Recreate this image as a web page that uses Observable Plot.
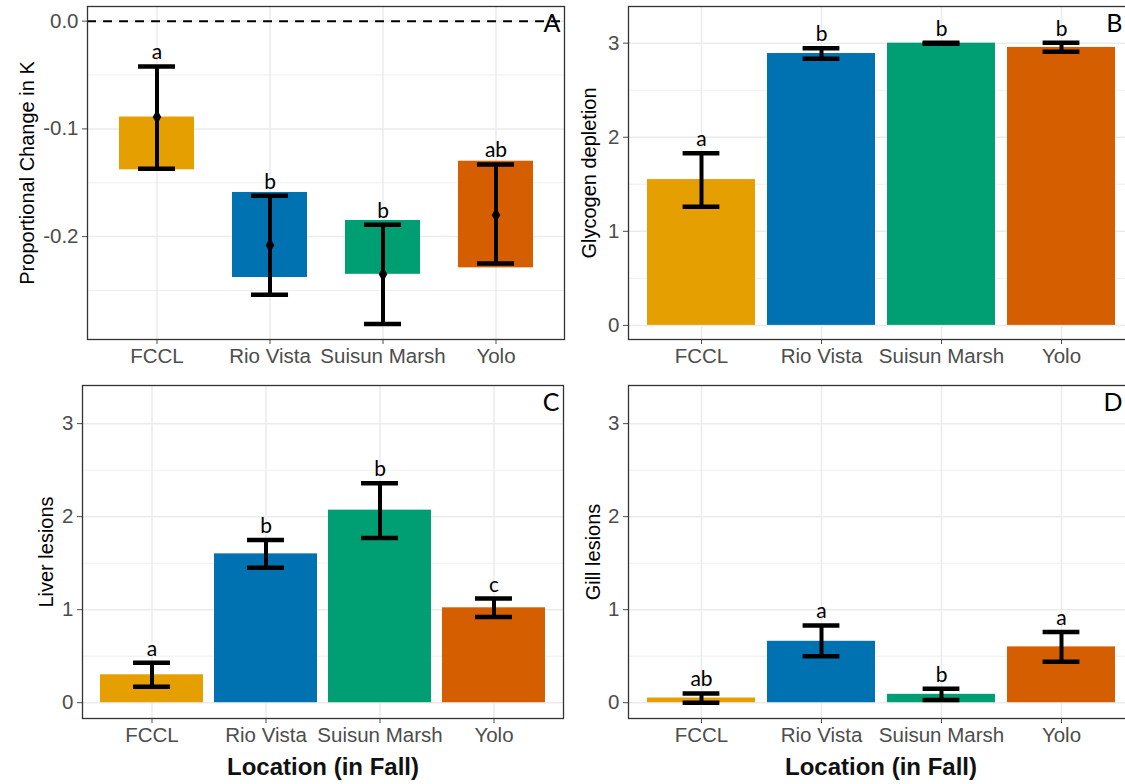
<!DOCTYPE html>
<html>
<head>
<meta charset="utf-8">
<script src="https://cdn.jsdelivr.net/npm/d3@7"></script>
<script src="https://cdn.jsdelivr.net/npm/@observablehq/plot@0.6"></script>
<style>
html, body { margin: 0; padding: 0; background: #fff; overflow: hidden; }
#wrap { position: relative; width: 1125px; height: 784px; overflow: hidden; background: #fff; }
.p { position: absolute; }
</style>
</head>
<body>
<div id="wrap"></div>
<script>
// ---- data ----
const locations = ["FCCL", "Rio Vista", "Suisun Marsh", "Yolo"];
const fills = ["#E69F00", "#0072B2", "#009E73", "#D55E00"];

// Panel A: proportional change in K (floating bars)
const kBarTop    = [-0.089, -0.159, -0.185, -0.130];
const kBarBottom = [-0.138, -0.238, -0.235, -0.229];
const kMean      = [-0.089, -0.208, -0.235, -0.180];
const kErrLow    = [-0.137, -0.254, -0.281, -0.225];
const kErrHigh   = [-0.042, -0.162, -0.189, -0.133];
const kLetters   = ["a", "b", "b", "ab"];
const kTicks     = [0, -0.1, -0.2];
const kMinor     = [-0.05, -0.15, -0.25];

// Panel B: glycogen depletion
const glyMean    = [1.55, 2.89, 3.00, 2.955];
const glyLow     = [1.26, 2.835, 2.995, 2.91];
const glyHigh    = [1.83, 2.945, 3.005, 3.005];
const glyLetters = ["a", "b", "b", "b"];

// Panel C: liver lesions
const livMean    = [0.30, 1.60, 2.07, 1.02];
const livLow     = [0.17, 1.45, 1.77, 0.92];
const livHigh    = [0.43, 1.75, 2.36, 1.12];
const livLetters = ["a", "b", "b", "c"];

// Panel D: gill lesions
const gilMean    = [0.05, 0.66, 0.09, 0.60];
const gilLow     = [0.00, 0.50, 0.03, 0.44];
const gilHigh    = [0.10, 0.83, 0.15, 0.76];
const gilLetters = ["ab", "a", "b", "a"];

const scoreTicks = [0, 1, 2, 3];
const scoreMinor = [0.5, 1.5, 2.5];

const xTitle = "Location (in Fall)";

// ---- build rows ----
function rowsFrom(lo, hi, mean, eLow, eHigh, letters) {
  return locations.map((loc, i) => ({
    loc, fill: fills[i], lo: lo[i], hi: hi[i], mean: mean[i],
    errLow: eLow[i], errHigh: eHigh[i], letter: letters[i]
  }));
}

const zeros = locations.map(() => 0);

function makePanel(cfg) {
  const {rows, left, top, width, height, mL, mR, mT, mB, yDomain, major, minor, fmt,
         pi, po, tag, tagDx, yTitle, yTitleOff, showXTitle, floating} = cfg;
  const bw = (width - mL - mR) / (locations.length - pi + 2 * po) * (1 - pi);
  const capInset = Math.max(0, (bw - 37) / 2);
  const marks = [
    Plot.gridY(minor, {stroke: "#ebebeb", strokeOpacity: 1, strokeWidth: 0.8}),
    Plot.gridY(major, {stroke: "#ebebeb", strokeOpacity: 1, strokeWidth: 1.5}),
    Plot.gridX(locations, {stroke: "#ebebeb", strokeOpacity: 1, strokeWidth: 1.5}),
    Plot.barY(rows, {x: "loc", y1: "lo", y2: "hi", fill: "fill"})
  ];
  if (floating) {
    marks.push(Plot.ruleY([0], {stroke: "black", strokeWidth: 2, strokeDasharray: "9,7"}));
  }
  marks.push(
    Plot.ruleX(rows, {x: "loc", y1: "errLow", y2: "errHigh", stroke: "black", strokeWidth: 4}),
    Plot.tickY(rows, {x: "loc", y: "errLow", stroke: "black", strokeWidth: 4.5, insetLeft: capInset, insetRight: capInset}),
    Plot.tickY(rows, {x: "loc", y: "errHigh", stroke: "black", strokeWidth: 4.5, insetLeft: capInset, insetRight: capInset})
  );
  if (floating) {
    marks.push(Plot.dot(rows, {x: "loc", y: "mean", symbol: "diamond", r: 4.5, fill: "black"}));
  }
  marks.push(
    Plot.text(rows, {x: "loc", y: "errHigh", text: "letter", lineAnchor: "bottom", dy: -7,
                     fontSize: 21, fontFamily: "Lato, 'Open Sans', sans-serif", fill: "black"}),
    Plot.text([tag], {frameAnchor: "top-right", textAnchor: "end", lineAnchor: "top", dx: tagDx, dy: 8,
                      fontSize: 25, fontFamily: "Lato, 'Open Sans', sans-serif", fill: "black"}),
    Plot.text([yTitle], {frameAnchor: "left", rotate: -90, dx: -yTitleOff, lineAnchor: "bottom",
                         textAnchor: "middle", fontSize: 20, fill: "black"}),
    Plot.axisY({ticks: major, tickFormat: fmt, tickSize: 5, tickPadding: 4, fontSize: 20.5, label: null}),
    Plot.axisX({tickSize: 5, tickPadding: 4, fontSize: 20.5, label: null}),
    Plot.frame({stroke: "#333333", strokeWidth: 1.3})
  );
  if (showXTitle) {
    marks.push(Plot.text([xTitle], {frameAnchor: "bottom", lineAnchor: "middle", dy: 49,
                                    fontSize: 24, fontWeight: "bold", fill: "#111"}));
  }
  const svg = Plot.plot({
    width, height,
    marginLeft: mL, marginRight: mR, marginTop: mT, marginBottom: mB,
    style: {fontFamily: "'Liberation Sans', Arial, sans-serif", fontSize: "20px", color: "#4d4d4d", background: "transparent", overflow: "visible"},
    x: {type: "band", domain: locations, paddingInner: pi, paddingOuter: po, label: null},
    y: {domain: yDomain, label: null},
    marks
  });
  svg.classList.add("p");
  svg.style.left = left + "px";
  svg.style.top = top + "px";
  document.getElementById("wrap").appendChild(svg);
}

const fmt1 = d => d.toFixed(1);
const fmt0 = d => String(d);

makePanel({
  rows: rowsFrom(kBarBottom, kBarTop, kMean, kErrLow, kErrHigh, kLetters),
  left: 0, top: 0, width: 570, height: 375, mL: 87, mR: 6, mT: 6, mB: 36,
  yDomain: [-0.2955, 0.0136], major: kTicks, minor: kMinor, fmt: fmt1,
  pi: 0.34, po: 0.27, tag: "A", tagDx: -4, yTitle: "Proportional Change in K", yTitleOff: 54,
  showXTitle: false, floating: true
});

makePanel({
  rows: rowsFrom(zeros, glyMean, glyMean, glyLow, glyHigh, glyLetters),
  left: 570, top: 0, width: 570, height: 375, mL: 58, mR: 7, mT: 6, mB: 36,
  yDomain: [-0.15, 3.39], major: scoreTicks, minor: scoreMinor, fmt: fmt0,
  pi: 0.1, po: 0.15, tag: "B", tagDx: -11, yTitle: "Glycogen depletion", yTitleOff: 33,
  showXTitle: false, floating: false
});

makePanel({
  rows: rowsFrom(zeros, livMean, livMean, livLow, livHigh, livLetters),
  left: 0, top: 375, width: 570, height: 409, mL: 82, mR: 7, mT: 10, mB: 66,
  yDomain: [-0.17, 3.41], major: scoreTicks, minor: scoreMinor, fmt: fmt0,
  pi: 0.1, po: 0.15, tag: "C", tagDx: -4, yTitle: "Liver lesions", yTitleOff: 30,
  showXTitle: true, floating: false
});

makePanel({
  rows: rowsFrom(zeros, gilMean, gilMean, gilLow, gilHigh, gilLetters),
  left: 570, top: 375, width: 570, height: 409, mL: 58, mR: 7, mT: 10, mB: 66,
  yDomain: [-0.17, 3.41], major: scoreTicks, minor: scoreMinor, fmt: fmt0,
  pi: 0.1, po: 0.15, tag: "D", tagDx: -11, yTitle: "Gill lesions", yTitleOff: 29,
  showXTitle: true, floating: false
});
</script>
</body>
</html>
